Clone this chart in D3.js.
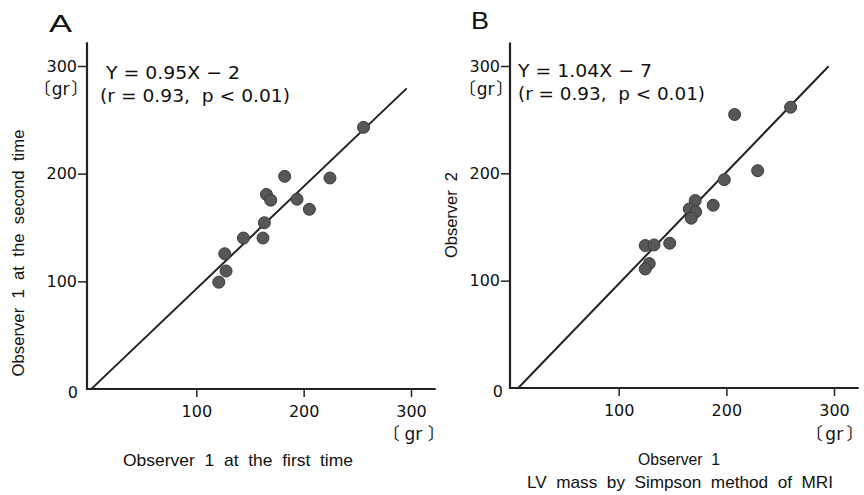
<!DOCTYPE html>
<html><head><meta charset="utf-8">
<script src="https://cdn.jsdelivr.net/npm/d3@7"></script>
<style>
body{margin:0;background:#fff;}
text{font-family:"DejaVu Sans","Liberation Sans",sans-serif;fill:#111;}
.nar{font-family:"Liberation Sans Narrow","Liberation Sans",sans-serif;}
.br{font-family:"Noto Sans CJK JP",sans-serif;}
</style></head>
<body><svg id="c" width="864" height="495"></svg>
<script>
// Panel A: Observer 1 first time (x) vs second time (y)
const aX = [255.8,182.3,224.5,165.3,169.3,193.8,205.3,163.4,143.9,162.1,126.5,127.7,120.9];
const aY = [243.0,197.5,196.0,180.7,175.4,176.3,166.9,154.4,140.2,140.2,125.6,109.6,99.2];
// Panel B: Observer 1 (x) vs Observer 2 (y)
const bX = [259.7,207.7,229.1,198.1,171.1,187.8,165.6,171.5,167.4,124.7,132.8,147.4,128.4,124.7];
const bY = [261.6,254.8,202.5,194.1,174.6,170.3,166.8,164.1,158.2,132.7,133.3,134.9,115.9,110.9];
const tickVals = [0,100,200,300];
const panelLetters = ["A","B"];
const equations = ["Y = 0.95X − 2","Y = 1.04X − 7"];
const stats = ["(r = 0.93,  p < 0.01)","(r = 0.93,  p < 0.01)"];
const slopes = [0.95,1.04];
const intercepts = [-2,-7];
const lineRange = [[2,296],[6.7,295]];
const unitParts = ["〔","gr","〕"];
const yTitles = ["Observer  1  at  the  second  time","Observer  2"];
const xTitles = [["Observer  1  at  the  first  time"],["Observer  1","LV  mass  by  Simpson  method  of  MRI"]];

const svg = d3.select("#c");
const panels = [
  {xs:aX, ys:aY, x0:89, x300:411, y0:389, y300:66, axisX:87, zeroDx:-9,
   letter:[49,32], eq:[106,79,134], st:[100,102,190], yunit:[43,95,0.08], xunit:[392,440,0.3],
   yT:[24,253,247], xT:[[238,466,230]]},
  {xs:bX, ys:bY, x0:511, x300:834, y0:388, y300:66, axisX:510, zeroDx:-7,
   letter:[471,29], eq:[518,77,134], st:[518,100,187], yunit:[468,95,0.08], xunit:[815,440,0.18],
   yT:[457,215,86], xT:[[679,465,82],[680,488,306]]}
];

function unit(g, x0, yb, gap){
  const t = g.append("text").attr("class","br").attr("x",x0).attr("y",yb).style("font-size","17px");
  t.append("tspan").attr("dx","-0.55em").text(unitParts[0]);
  t.append("tspan").attr("dx",(gap-0.02)+"em").style("font-family","'DejaVu Sans',sans-serif").text(unitParts[1]);
  t.append("tspan").attr("dx",(gap+0.02)+"em").text(unitParts[2]);
}

panels.forEach((p,i)=>{
  const kx = (p.x300-p.x0)/300, ky = (p.y0-p.y300)/300;
  const x = d3.scaleLinear().domain([0,323]).range([p.x0, p.x0+323*kx]);
  const y = d3.scaleLinear().domain([0,322]).range([p.y0, p.y0-322*ky]);
  const g = svg.append("g");

  // axes
  const ya = g.append("g").attr("transform",`translate(${p.axisX},0)`)
    .call(d3.axisLeft(y).tickValues(tickVals).tickSize(9).tickSizeOuter(0).tickPadding(1).tickFormat(d3.format("d")));
  const xa = g.append("g").attr("transform",`translate(0,${p.y0})`)
    .call(d3.axisBottom(x).tickValues(tickVals.slice(1)).tickSize(9).tickSizeOuter(0).tickPadding(8).tickFormat(d3.format("d")));
  ya.select(".domain").attr("d",`M0,${p.y0+1}V${y(322)}`);
  xa.select(".domain").attr("d",`M${p.axisX},0H${x(323)}`);
  [ya,xa].forEach(a=>{
    a.select(".domain").attr("stroke","#222").attr("stroke-width",2.2);
    a.selectAll(".tick line").attr("stroke","#222").attr("stroke-width",1.5);
    a.selectAll("text").style("font-size","16px").attr("fill","#111")
      .style("font-family","'DejaVu Sans',sans-serif");
  });
  ya.selectAll(".tick").filter(d=>d===0).select("line").remove();
  ya.selectAll(".tick").filter(d=>d===0).select("text").attr("x",p.zeroDx).attr("dy","0.5em");
  xa.selectAll(".tick line").attr("y2",8);

  // unit labels
  unit(g, p.yunit[0], p.yunit[1], p.yunit[2]);
  unit(g, p.xunit[0], p.xunit[1], p.xunit[2]);

  // panel letter
  g.append("text").attr("class","nar").attr("x",p.letter[0]).attr("y",p.letter[1])
    .attr("textLength",i===1?18:23).attr("lengthAdjust","spacingAndGlyphs")
    .style("font-size","24px").text(panelLetters[i]);

  // equation
  g.append("text").attr("x",p.eq[0]).attr("y",p.eq[1])
    .attr("textLength",p.eq[2]).attr("lengthAdjust","spacingAndGlyphs")
    .style("font-size","18px").text(equations[i]);
  g.append("text").attr("x",p.st[0]).attr("y",p.st[1])
    .attr("textLength",p.st[2]).attr("lengthAdjust","spacingAndGlyphs")
    .style("font-size","18px").style("white-space","pre").text(stats[i]);

  // regression line
  const lr = lineRange[i];
  g.append("line")
    .attr("x1",x(lr[0])).attr("y1",y(slopes[i]*lr[0]+intercepts[i]))
    .attr("x2",x(lr[1])).attr("y2",y(slopes[i]*lr[1]+intercepts[i]))
    .attr("stroke","#222").attr("stroke-width",2);

  // points
  g.selectAll("circle.pt").data(p.xs.map((v,j)=>[v,p.ys[j]])).enter().append("circle")
    .attr("cx",d=>x(d[0])).attr("cy",d=>y(d[1])).attr("r",6)
    .attr("fill","#575757").attr("stroke","#3a3a3a").attr("stroke-width",1);

  // y title
  g.append("text").attr("class","nar").attr("transform",`translate(${p.yT[0]},${p.yT[1]}) rotate(-90)`)
    .attr("text-anchor","middle").attr("textLength",p.yT[2]).attr("lengthAdjust","spacingAndGlyphs")
    .style("font-size","17px").style("white-space","pre").text(yTitles[i]);
  // x titles
  xTitles[i].forEach((t,k)=>{
    const s = p.xT[k];
    g.append("text").attr("class","nar").attr("x",s[0]).attr("y",s[1])
      .attr("text-anchor","middle").attr("textLength",s[2]).attr("lengthAdjust","spacingAndGlyphs")
      .style("font-size","17px").style("white-space","pre").text(t);
  });
});
</script></body></html>
